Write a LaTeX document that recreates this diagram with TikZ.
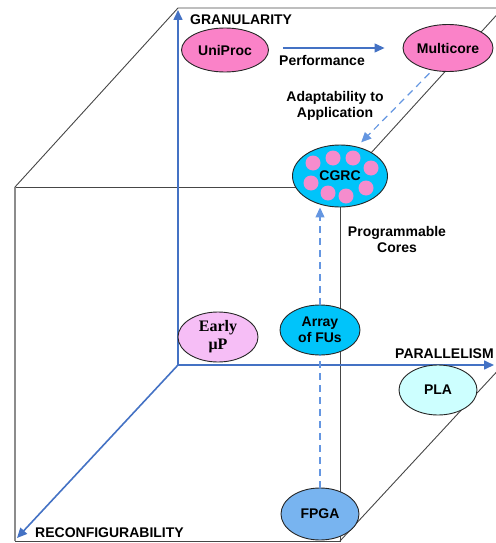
\documentclass[tikz,border=0pt]{standalone}
\usepackage{fontspec}
\setsansfont{Liberation Sans}
\setmainfont{Liberation Serif}
\usetikzlibrary{arrows.meta,positioning,shapes.geometric}
\definecolor{axisblue}{RGB}{68,114,196}
\definecolor{dashblue}{RGB}{100,150,225}
\definecolor{edgegrey}{RGB}{70,70,70}
\definecolor{procpink}{RGB}{250,130,200}
\definecolor{earlypink}{RGB}{246,190,246}
\definecolor{cgrccyan}{RGB}{0,196,250}
\definecolor{dotpink}{RGB}{245,140,205}
\definecolor{fpgablue}{RGB}{120,180,240}
\definecolor{placyan}{RGB}{205,255,255}
\newcommand{\lblfont}{\sffamily\bfseries\fontsize{14}{16}\selectfont}
\tikzset{
  unit/.style={ellipse,draw=black!85,line width=0.9pt,inner sep=0pt,align=center,
               font=\lblfont},
  unitp/.style={unit,fill=procpink},
  txt/.style={font=\lblfont,inner sep=0pt,align=center},
  edge/.style={draw=edgegrey,line width=0.9pt},
  axis/.style={-{Triangle[length=10pt,width=9pt]},line width=1.6pt,draw=axisblue},
  flow/.style={-{Triangle[length=10pt,width=9pt]},line width=1.2pt,draw=axisblue},
  flowd/.style={flow,draw=dashblue,dash pattern=on 7pt off 5pt},
  dot/.style={circle,fill=dotpink,inner sep=0pt,minimum size=15pt},
}
\begin{document}
\begin{tikzpicture}[x=1pt,y=-1pt]
  \useasboundingbox (0,0) rectangle (495,543);
  % cubul: fata din fata si muchiile din spate care se vad
  \draw[edge] (15,187) -- (340,187) -- (340,541) -- (15,541);
  \draw[edge,draw=black!45,line width=1.4pt] (15,187) -- (15,541);
  \draw[edge] (15,187) -- (178,8) -- (503,8);
  \draw[edge] (340,187) -- (503,8);
  \draw[edge] (340,541) -- (503,365);

  % cele trei axe pornesc din coltul din spate
  \coordinate (o)  at (178,365);
  \coordinate (gx) at (178,10);
  \coordinate (px) at (494,365);
  \coordinate (rx) at (17,538);
  \draw[axis] (o) -- (gx);
  \draw[axis] (o) -- (px);
  \draw[axis] (o) -- (rx);
  \node[txt,anchor=west] (gran)  at (190,20)  {GRANULARITY};
  \node[txt,anchor=west] (par)   at (395,354) {PARALLELISM};
  \node[txt,anchor=west] (recon) at (35,533)  {RECONFIGURABILITY};

  % arhitecturile
  \node[unitp,minimum width=87,minimum height=44] (uni)  at (225,50) {UniProc};
  \node[unitp,minimum width=90,minimum height=47] (multi) at (448,48) {Multicore};
  \node[unit,fill=cgrccyan,minimum width=95,minimum height=62] (cgrc) at (340,176) {};
  \foreach \dx/\dy in {-27/-13,-7/-18,13/-18,31/-8,-29/7,-12/17,6/20,26/12}
    \node[dot] at ([shift={(\dx,\dy)}]cgrc.center) {};
  \node[txt] (cgrct) at (cgrc.center) {CGRC};
  \node[unit,fill=earlypink,minimum width=80,minimum height=50,
        font=\rmfamily\bfseries\fontsize{16}{18}\selectfont] (early) at (218,337)
    {Early\\μP};
  \node[unit,fill=cgrccyan,minimum width=80,minimum height=50] (arr) at (320,330)
    {Array\\of FUs};
  \node[unit,fill=placyan,minimum width=78,minimum height=50] (pla) at (438,390) {PLA};
  \node[unit,fill=fpgablue,minimum width=78,minimum height=52] (fpga) at (320,514) {FPGA};

  % tranzitii
  \draw[flow,shorten <=14pt,shorten >=18pt] (uni.east |- multi.west) -- (multi.west);
  \node[txt] (perf) at (322,60) {Performance};
  \draw[flowd,shorten <=4pt,shorten >=6pt] (multi.235) -- (cgrc.60);
  \node[txt] (adapt) at (335,106) {Adaptability to\\Application};
  \draw[flowd] (arr.north) -- (arr.north |- cgrc.south);
  \draw[draw=dashblue,line width=1.2pt,dash pattern=on 7pt off 5pt]
    (fpga.north) -- (arr.south);
  \node[txt,align=center] (prog) at (397,239) {Programmable\\Cores};
\end{tikzpicture}
\end{document}
